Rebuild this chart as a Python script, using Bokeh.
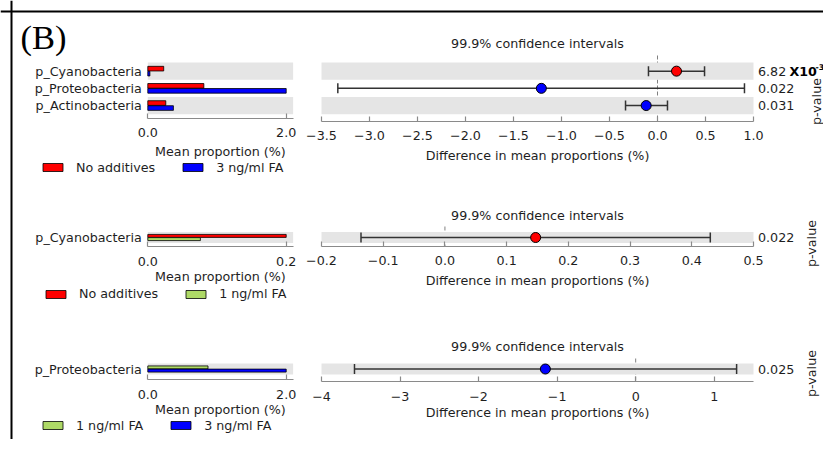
import math
from bokeh.plotting import figure
from bokeh.models import (ColumnDataSource, Range1d, LinearAxis, FixedTicker,
                          CustomJSTickFormatter, Label, Legend, LegendItem, Span)
from bokeh.core.properties import value
from bokeh.transform import dodge
from bokeh.embed import file_html
from bokeh.resources import INLINE

# ---------------- data ----------------
ci_title = "99.9% confidence intervals"
bar_xlabel = "Mean proportion (%)"
ci_xlabel = "Difference in mean proportions (%)"
panel_letter = "(B)"

# panel 1 : No additives vs 3 ng/ml FA
p1_groups = ["No additives", "3 ng/ml FA"]
p1_taxa = ["p_Cyanobacteria", "p_Proteobacteria", "p_Actinobacteria"]
p1_mean_g1 = [0.23, 0.81, 0.26]
p1_mean_g2 = [0.03, 2.00, 0.37]
p1_diff = [0.198, -1.21, -0.118]
p1_ci_low = [-0.094, -3.33, -0.333]
p1_ci_high = [0.49, 0.906, 0.104]
p1_pvalue = [6.82e-3, 0.022, 0.031]
p1_ci_lim = [-3.5, 1.0]
p1_ci_ticks = [-3.5, -3.0, -2.5, -2.0, -1.5, -1.0, -0.5, 0.0, 0.5, 1.0]

# panel 2 : No additives vs 1 ng/ml FA
p2_groups = ["No additives", "1 ng/ml FA"]
p2_taxa = ["p_Cyanobacteria"]
p2_mean_g1 = [0.200]
p2_mean_g2 = [0.076]
p2_diff = [0.147]
p2_ci_low = [-0.136]
p2_ci_high = [0.430]
p2_pvalue = [0.022]
p2_ci_lim = [-0.2, 0.5]
p2_ci_ticks = [-0.2, -0.1, 0.0, 0.1, 0.2, 0.3, 0.4, 0.5]

# panel 3 : 1 ng/ml FA vs 3 ng/ml FA
p3_groups = ["1 ng/ml FA", "3 ng/ml FA"]
p3_taxa = ["p_Proteobacteria"]
p3_mean_g1 = [0.87]
p3_mean_g2 = [2.00]
p3_diff = [-1.15]
p3_ci_low = [-3.58]
p3_ci_high = [1.285]
p3_pvalue = [0.025]
p3_ci_lim = [-4.0, 1.5]
p3_ci_ticks = [-4, -3, -2, -1, 0, 1]

# ---------------- style / layout ----------------
W, H = 823, 439
FONT = "DejaVu Sans"
FS = "12.7px"
TXT = "#1e1e1e"
AXC = "#8a8a8a"
BAND = "#e5e5e5"
COLORS = {"No additives": "#ff0000", "1 ng/ml FA": "#aed966", "3 ng/ml FA": "#0000ff"}

p = figure(width=W, height=H, x_range=Range1d(0, W), y_range=Range1d(H, 0),
           x_axis_type=None, y_axis_type=None, min_border=0,
           toolbar_location=None, output_backend="svg",
           outline_line_color=None, background_fill_color="white",
           border_fill_color="white")
p.grid.visible = False


def xrange_map(v0, px0, v1, px1):
    k = (px1 - px0) / (v1 - v0)
    return Range1d(start=v0 - px0 / k, end=v0 + (W - px0) / k)


def yrange_map(py0, k):
    return Range1d(start=(H - py0) / k, end=-py0 / k)


def style_axis(ax):
    ax.axis_line_color = AXC
    ax.axis_line_width = 1.2
    ax.major_tick_line_color = AXC
    ax.major_tick_line_width = 1.2
    ax.major_tick_in = 5
    ax.major_tick_out = 0
    ax.minor_tick_line_color = None
    ax.major_label_text_font = FONT
    ax.major_label_text_font_size = FS
    ax.major_label_text_color = TXT
    ax.major_label_standoff = 10


def text_label(**kw):
    base = dict(text_font=FONT, text_font_size=FS, text_color=TXT, text_baseline="middle")
    base.update(kw)
    p.add_layout(Label(**base))


def draw_panel(name, groups, taxa, m1, m2, diff, lo, hi, pvals, ci_lim, ci_ticks, ci_dec, L):
    g1, g2 = groups
    n = len(taxa)
    idx = list(range(n))
    bmax = max(m1 + m2)
    btick = round(bmax, 1)
    bext = btick * 1.05
    ci_lo, ci_hi = ci_lim
    bx, cx, ry = name + "_bx", name + "_cx", name + "_ry"
    p.extra_x_ranges[bx] = xrange_map(0, L["bx0"], btick, L["bx1"])
    p.extra_x_ranges[cx] = xrange_map(ci_lo, L["cx0"], ci_hi, L["cx1"])
    p.extra_y_ranges[ry] = yrange_map(L["row0"], L["unit"])

    def yv(py):
        return (py - L["row0"]) / L["unit"]

    src = ColumnDataSource(dict(
        idx=idx, m1=m1, m2=m2, diff=diff, lo=lo, hi=hi,
        col=[COLORS[g1] if d > 0 else COLORS[g2] for d in diff]))
    B = dict(x_range_name=bx, y_range_name=ry)
    C = dict(x_range_name=cx, y_range_name=ry)

    # zero line (under the bands)
    p.segment(x0=[0], x1=[0], y0=[yv(L["top"])], y1=[yv(L["cax"])],
              line_color="#808080", line_dash="4 2", line_width=1, **C)
    band_rows = [i for i in idx if i % 2 == 0]
    p.hbar(y=band_rows, left=0, right=bext, height=1, fill_color=BAND, line_color=None, **B)
    p.hbar(y=band_rows, left=ci_lo, right=ci_hi, height=1, fill_color=BAND, line_color=None, **C)

    r1 = p.hbar(y=dodge("idx", -0.145), left=0, right="m1", height=0.27, source=src,
                fill_color=COLORS[g1], line_color="black", line_width=0.8, **B)
    r2 = p.hbar(y=dodge("idx", 0.145), left=0, right="m2", height=0.27, source=src,
                fill_color=COLORS[g2], line_color="black", line_width=0.8, **B)

    # confidence intervals
    p.segment(x0="lo", x1="hi", y0="idx", y1="idx", source=src,
              line_color="#333333", line_width=1.5, **C)
    for f in ("lo", "hi"):
        p.scatter(x=f, y="idx", source=src, marker="dash", angle=math.pi / 2, size=10,
                  line_color="#333333", line_width=1.5, **C)
    p.scatter(x="diff", y="idx", source=src, size=10, fill_color="col",
              line_color="black", line_width=1, **C)

    # axes
    axb = LinearAxis(x_range_name=bx, y_range_name=ry, fixed_location=yv(L["bax"]),
                     bounds=(0, bext), ticker=FixedTicker(ticks=[0, btick]),
                     formatter=CustomJSTickFormatter(code="return tick.toFixed(1);"))
    style_axis(axb)
    p.add_layout(axb, "below")

    axc = LinearAxis(x_range_name=cx, y_range_name=ry, fixed_location=yv(L["cax"]),
                     bounds=(ci_lo, ci_hi), ticker=FixedTicker(ticks=ci_ticks),
                     formatter=CustomJSTickFormatter(args=dict(d=ci_dec), code=
                         "const s = Math.abs(tick).toFixed(d); return (tick < -1e-9 ? '\\u2212' : '') + s;"))
    style_axis(axc)
    p.add_layout(axc, "below")

    axy = LinearAxis(x_range_name=bx, y_range_name=ry, fixed_location=0,
                     ticker=FixedTicker(ticks=idx),
                     formatter=CustomJSTickFormatter(args=dict(names=taxa),
                                                     code="return names[Math.round(tick)];"))
    axy.axis_line_color = None
    axy.major_tick_line_color = None
    axy.minor_tick_line_color = None
    axy.major_tick_in = 0
    axy.major_tick_out = 0
    axy.major_label_text_font = FONT
    axy.major_label_text_font_size = FS
    axy.major_label_text_color = TXT
    axy.major_label_standoff = 6
    p.add_layout(axy, "left")

    # titles
    text_label(x=(ci_lo + ci_hi) / 2, x_range_name=cx, y=L["title_y"], text=ci_title,
               text_align="center")
    text_label(x=bext / 2, x_range_name=bx, y=L["bxl_y"], text=bar_xlabel,
               text_align="center")
    text_label(x=(ci_lo + ci_hi) / 2, x_range_name=cx, y=L["cxl_y"], text=ci_xlabel,
               text_align="center")
    text_label(x=ci_hi, x_range_name=cx, x_offset=L["pv_dx"], y=L["pv_y"],
               text="p-value", angle=math.pi / 2, text_align="center")

    # p-values
    main, sci = [], []
    for i, v in enumerate(pvals):
        if v < 0.01:
            e = math.floor(math.log10(v))
            main.append(f"{v / 10 ** e:.2f}")
            sci.append((i, e))
        else:
            main.append(f"{v:.3f}")
    p.text(x=[ci_hi] * n, y=idx, text=main, x_offset=4.5, text_baseline="middle",
           text_font=value(FONT), text_font_size=FS, text_color=TXT, **C)
    for i, e in sci:
        p.text(x=[ci_hi], y=[i], text=["X10"], x_offset=36, text_baseline="middle",
               text_font=value(FONT), text_font_size=FS, text_font_style="bold",
               text_color="black", **C)
        p.text(x=[ci_hi], y=[i], text=[str(e)], x_offset=62, y_offset=-4,
               text_baseline="middle", text_font=value(FONT), text_font_size="7.8px",
               text_font_style="bold", text_color="black", **C)

    # legend
    leg = Legend(items=[LegendItem(label=value(g1), renderers=[r1]),
                        LegendItem(label=value(g2), renderers=[r2])],
                 orientation="horizontal",
                 location=(L["leg_x"], H - L["leg_y"] - 6.5),
                 glyph_width=25, glyph_height=10, label_height=10, label_width=10,
                 label_standoff=11, spacing=25, padding=0, margin=0,
                 border_line_color=None, background_fill_alpha=0,
                 label_text_font=FONT, label_text_font_size=FS, label_text_color=TXT)
    p.add_layout(leg)


draw_panel("a", p1_groups, p1_taxa, p1_mean_g1, p1_mean_g2, p1_diff, p1_ci_low, p1_ci_high,
           p1_pvalue, p1_ci_lim, p1_ci_ticks, 1,
           dict(bx0=147.3, bx1=285.7, cx0=321, cx1=753, row0=70.65, unit=17.2,
                top=55, bax=117.7, cax=120.5, title_y=42.5, bxl_y=151, cxl_y=154.5,
                pv_dx=63, pv_y=101, leg_x=40, leg_y=168.2))
draw_panel("b", p2_groups, p2_taxa, p2_mean_g1, p2_mean_g2, p2_diff, p2_ci_low, p2_ci_high,
           p2_pvalue, p2_ci_lim, p2_ci_ticks, 1,
           dict(bx0=147.3, bx1=285.7, cx0=321, cx1=753, row0=237, unit=11,
                top=226, bax=246, cax=245.5, title_y=215, bxl_y=276, cxl_y=279.5,
                pv_dx=58, pv_y=243, leg_x=43, leg_y=294.5))
draw_panel("c", p3_groups, p3_taxa, p3_mean_g1, p3_mean_g2, p3_diff, p3_ci_low, p3_ci_high,
           p3_pvalue, p3_ci_lim, p3_ci_ticks, 0,
           dict(bx0=147.3, bx1=285.7, cx0=321, cx1=753, row0=368.5, unit=11,
                top=358, bax=379, cax=381, title_y=345.8, bxl_y=409.4, cxl_y=412.4,
                pv_dx=58, pv_y=373, leg_x=40, leg_y=426))

# frame lines and panel letter
p.add_layout(Span(location=11, dimension="height", line_color="black", line_width=2))
p.add_layout(Span(location=11, dimension="width", line_color="black", line_width=2))
p.add_layout(Label(x=20, y=36.5, text=panel_letter, text_font="Liberation Serif",
                   text_font_size="34.5px", text_baseline="middle", text_color="black"))

open("out.html", "w", encoding="utf-8").write(file_html(p, INLINE))
